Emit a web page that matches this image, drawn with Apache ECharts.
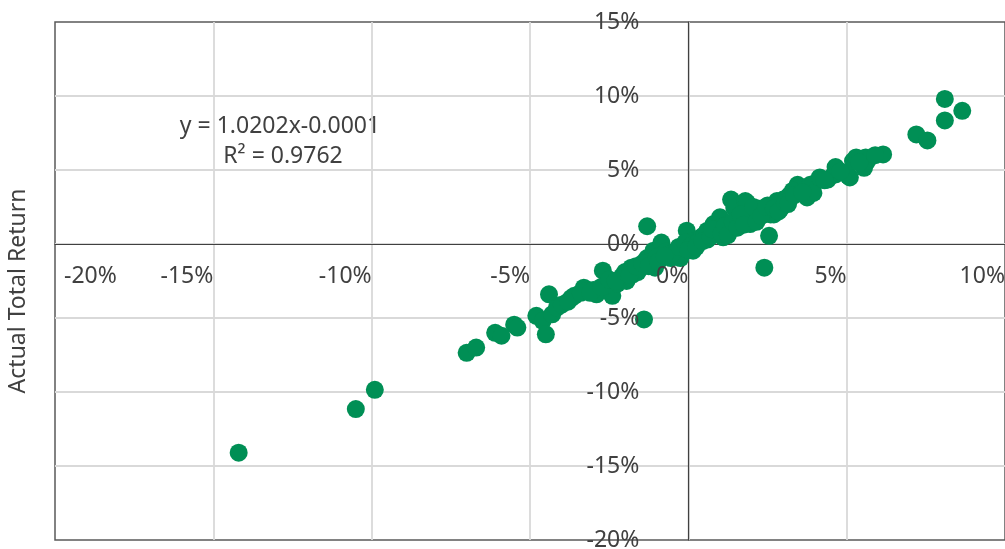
<!DOCTYPE html>
<html>
<head>
<meta charset="utf-8">
<script src="https://cdn.jsdelivr.net/npm/echarts@6/dist/echarts.min.js"></script>
<style>
html,body{margin:0;padding:0;background:#fff;}
#chart{width:1005px;height:549px;}
</style>
</head>
<body>
<div id="chart"></div>
<script>
// x = predicted return (%), y = actual total return (%)
var predicted = [
  -14.2, -10.5, -9.9, -7.0, -6.7, -6.1, -5.9, -5.5, -5.4, -4.8,
  -4.6, -4.5, -4.4, -4.3, -4.15, -3.7, -3.3, -3.25, -2.9, -2.7,
  -2.4, -2.25, -1.95, -1.75, -1.5, -1.4, -1.3, -1.3, -1.1, -1.05,
  -0.85, -0.55, -0.35, -0.25, -0.15, -0.05, 0.15, 0.15, 0.4, 0.6,
  0.8, 1.0, 1.0, 1.1, 1.35, 1.45, 1.45, 1.8, 1.85, 1.95,
  1.95, 2.25, 2.55, 2.4, 2.6, 2.7, 2.9, 2.9, 3.0, 3.45,
  3.45, 3.55, 3.75, 3.75, 3.85, 3.95, 3.95, 4.15, 4.4, 4.6,
  4.65, 4.65, 5.05, 5.1, 5.2, 5.3, 5.55, 5.6, 5.65, 6.15,
  7.2, 7.55, 8.1, 8.1, 8.65,
  -3.6, -3.0, -2.6, -2.1, -1.8, -1.6, -1.2, -0.9, -0.7, -0.5,
  -0.3, -0.1, 0.1, 0.3, 0.5, 0.6, 0.8, 0.9, 1.2, 1.3,
  1.5, 1.6, 1.7, 1.9, 2.0, 2.1, 2.2, 2.4, 2.5, 2.6,
  2.8, 3.1, 3.2, 3.3, 4.3, 4.8, 5.4, 5.9,
  -4.0, -3.8, -3.4, -3.1, -2.75, -2.5, -2.3, -2.0, -1.85, -1.65,
  -1.45, -1.25, -1.0, -0.95, -0.75,
  0.0, 0.25, 0.45, 0.7, 0.75, 1.05, 1.15, 1.25, 1.4, 1.55,
  1.65, 1.75, 2.05, 2.15, 2.3, 2.45, 2.7, 2.85, 3.05, 3.15,
  3.35, 3.6
];
var actual = [
  -14.1, -11.15, -9.85, -7.35, -7.0, -6.0, -6.2, -5.45, -5.65, -4.85,
  -5.2, -6.1, -3.4, -4.75, -4.3, -3.65, -2.95, -3.2, -3.4, -1.8,
  -3.5, -2.7, -2.5, -2.05, -1.6, -5.1, -0.95, 1.2, -0.45, -1.6,
  0.1, -0.95, -0.7, -0.95, -0.25, 0.9, 0.2, -0.45, 0.45, 0.9,
  1.35, 1.8, 1.1, 0.45, 3.0, 2.45, 1.1, 2.9, 2.8, 1.55,
  1.35, 2.25, 0.55, -1.6, 2.0, 2.0, 2.7, 2.35, 3.0, 4.0,
  3.9, 3.8, 3.25, 3.15, 4.0, 4.05, 3.45, 4.5, 4.35, 4.7,
  5.2, 4.7, 4.6, 4.5, 5.6, 5.85, 5.15, 5.85, 5.6, 6.05,
  7.4, 7.0, 9.8, 8.35, 9.0,
  -3.5, -3.1, -2.8, -2.2, -1.6, -1.9, -1.2, -0.8, -0.5, -0.6,
  -0.2, 0.1, -0.1, 0.1, 0.6, 0.3, 0.7, 1.0, 1.3, 0.9,
  1.6, 1.4, 1.9, 2.0, 2.2, 1.8, 2.4, 2.2, 2.6, 2.4,
  2.9, 3.1, 3.3, 3.6, 4.3, 4.9, 5.5, 6.0,
  -4.1, -3.9, -3.3, -3.3, -2.9, -2.4, -2.5, -1.9, -2.1, -1.5,
  -1.3, -1.5, -0.9, -1.2, -0.8,
  -0.4, -0.2, 0.2, 0.5, 1.0, 0.7, 1.2, 0.6, 1.5, 1.1,
  2.0, 1.3, 2.5, 1.5, 1.9, 2.5, 2.4, 2.2, 2.8, 2.7,
  3.3, 3.5
];
var xTickLabels = ['-20%', '-15%', '-10%', '-5%', '0%', '5%', '10%'];
var yTickLabels = ['-20%', '-15%', '-10%', '-5%', '0%', '5%', '10%', '15%'];
var equationText = 'y = 1.0202x-0.0001';
var rSquaredText = 'R\u00b2 = 0.9762';
var yAxisTitle = 'Actual Total Return';

var points = predicted.map(function (x, i) { return [x, actual[i]]; });

var FONT = "'Noto Sans', sans-serif";
var FS = 23;
var TXT = '#404040';

var W = 1005, H = 549;
var G = {left: 55, right: 0, top: 22, bottom: 9};
var gw = W - G.left - G.right, gh = H - G.top - G.bottom;
// axes cross at zero: shift the axes (line + labels) to the zero position
var xMin = -20, xMax = 10, yMin = -20, yMax = 15;
var xAxisOffset = -gh * (0 - yMin) / (yMax - yMin);
var yAxisOffset = -gw * (0 - xMin) / (xMax - xMin);

function xLabelFmt(v) {
  var idx = Math.round((v - xMin) / 5);
  var t = xTickLabels[idx];
  return idx === 0 ? '{m|' + t + '}' : t;
}
function yLabelFmt(v) { return yTickLabels[Math.round((v - yMin) / 5)]; }

var xBase = {
  type: 'value', min: xMin, max: xMax, interval: 5,
  position: 'bottom', offset: xAxisOffset
};
var yBase = {
  type: 'value', min: yMin, max: yMax, interval: 5,
  position: 'left', offset: yAxisOffset
};

var chart = echarts.init(document.getElementById('chart'), null, {renderer: 'canvas'});
chart.setOption({
  animation: false,
  backgroundColor: '#ffffff',
  grid: {
    left: G.left, right: G.right, top: G.top, bottom: G.bottom,
    containLabel: false, outerBoundsMode: 'none',
    show: true, borderColor: '#595959', borderWidth: 1.5, backgroundColor: 'transparent'
  },
  xAxis: [
    Object.assign({}, xBase, {
      z: 0,
      axisLine: {show: true, onZero: false, lineStyle: {color: '#404040', width: 1.2}},
      axisTick: {show: false},
      splitLine: {show: true, showMinLine: false, showMaxLine: false, lineStyle: {color: '#d9d9d9', width: 1.8}},
      axisLabel: {show: false}
    }),
    Object.assign({}, xBase, {
      z: 10,
      axisLine: {show: false, onZero: false},
      axisTick: {show: false},
      splitLine: {show: false},
      axisLabel: {
        show: true, margin: 21, align: 'right', alignMinLabel: 'left',
        showMinLabel: true, showMaxLabel: true, hideOverlap: false,
        fontFamily: FONT, fontSize: FS, color: TXT,
        formatter: xLabelFmt,
        rich: {m: {fontFamily: FONT, fontSize: FS, color: TXT, padding: [0, 0, 0, 9]}}
      }
    })
  ],
  yAxis: [
    Object.assign({}, yBase, {
      z: 0,
      axisLine: {show: true, onZero: false, lineStyle: {color: '#404040', width: 1.2}},
      axisTick: {show: false},
      splitLine: {show: true, showMinLine: false, showMaxLine: false, lineStyle: {color: '#d9d9d9', width: 1.8}},
      axisLabel: {show: false}
    }),
    Object.assign({}, yBase, {
      z: 10,
      axisLine: {show: false, onZero: false},
      axisTick: {show: false},
      splitLine: {show: false},
      axisLabel: {
        show: true, margin: 49, showMinLabel: true, showMaxLabel: true, hideOverlap: false,
        fontFamily: FONT, fontSize: FS, color: TXT,
        formatter: yLabelFmt
      }
    })
  ],
  graphic: [
    {type: 'text', x: 18, y: 291, rotation: Math.PI / 2,
     style: {text: yAxisTitle, font: FS + 'px ' + FONT, fill: TXT, align: 'center', verticalAlign: 'middle'}},
    {type: 'text', x: 280, y: 126,
     style: {text: equationText, font: FS + 'px ' + FONT, fill: TXT, align: 'center', verticalAlign: 'middle'}},
    {type: 'text', x: 283, y: 156,
     style: {text: rSquaredText, font: FS + 'px ' + FONT, fill: TXT, align: 'center', verticalAlign: 'middle'}}
  ],
  series: [{
    type: 'scatter',
    xAxisIndex: 0, yAxisIndex: 0,
    data: points,
    symbol: 'circle',
    symbolSize: 18,
    itemStyle: {color: '#008F55', opacity: 1},
    z: 3
  }]
});
</script>
</body>
</html>
